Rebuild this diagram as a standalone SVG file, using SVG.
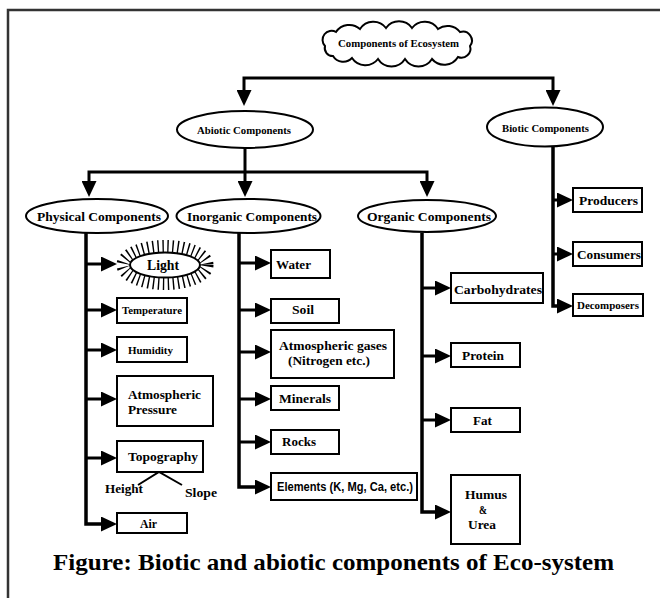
<svg xmlns="http://www.w3.org/2000/svg" width="660" height="598" viewBox="0 0 660 598">
<style>
.n{fill:#fff;stroke:#000;stroke-width:2}
.t{font-family:"Liberation Serif","Times New Roman",serif;font-weight:bold;fill:#000}
.s{font-family:"Liberation Sans",Arial,sans-serif;font-weight:bold;fill:#000}
.c{fill:none;stroke:#000;stroke-width:3}
.k{fill:none;stroke:#000;stroke-width:3.5}
</style>
<defs>
<marker id="ah" viewBox="0 0 16 15" refX="1" refY="7.5" markerWidth="16" markerHeight="15" markerUnits="userSpaceOnUse" orient="auto">
<path d="M0,0 L16,7.5 L0,15 Z" fill="#000"/>
</marker>
</defs>
<rect width="660" height="598" fill="#fff"/>
<path d="M8,598 V10 H660" fill="none" stroke="#333" stroke-width="2.5"/>

<g id="connectors">
<path class="c" d="M398,78 H244 V91" marker-end="url(#ah)"/>
<path class="c" d="M398,78 H553 V91" marker-end="url(#ah)"/>
<path class="c" d="M245,148 V182" marker-end="url(#ah)"/>
<path class="c" d="M245,172 H89 V182" marker-end="url(#ah)"/>
<path class="c" d="M245,172 H427 V182" marker-end="url(#ah)"/>
<!-- physical -->
<path class="k" d="M86,233 V524 H102" marker-end="url(#ah)"/>
<path class="c" d="M86,264 H102" marker-end="url(#ah)"/>
<path class="c" d="M86,310 H102" marker-end="url(#ah)"/>
<path class="c" d="M86,350 H102" marker-end="url(#ah)"/>
<path class="c" d="M86,399 H102" marker-end="url(#ah)"/>
<path class="c" d="M86,458 H102" marker-end="url(#ah)"/>
<!-- inorganic -->
<path class="k" d="M239,233 V487 H256" marker-end="url(#ah)"/>
<path class="c" d="M239,263 H256" marker-end="url(#ah)"/>
<path class="c" d="M239,310 H256" marker-end="url(#ah)"/>
<path class="c" d="M239,352 H256" marker-end="url(#ah)"/>
<path class="c" d="M239,399 H256" marker-end="url(#ah)"/>
<path class="c" d="M239,442 H256" marker-end="url(#ah)"/>
<!-- organic -->
<path class="k" d="M422,233 V512 H436" marker-end="url(#ah)"/>
<path class="c" d="M422,288 H436" marker-end="url(#ah)"/>
<path class="c" d="M422,356 H436" marker-end="url(#ah)"/>
<path class="c" d="M422,420 H436" marker-end="url(#ah)"/>
<!-- biotic -->
<path class="k" d="M553,147 V306 H558" marker-end="url(#ah)"/>
<path class="c" d="M553,200 H558" marker-end="url(#ah)"/>
<path class="c" d="M553,254 H558" marker-end="url(#ah)"/>
<!-- topography split -->
<path fill="none" stroke="#000" stroke-width="2" d="M138,485 L159,472 L182,485"/>
</g>

<g id="ecosystem">
<path class="n" d="M325,46 A9,9 0 0 1 336,32 A16,16 0 0 1 360,29 A16,16 0 0 1 386,28 A16,16 0 0 1 412,28 A16,16 0 0 1 438,29 A16,16 0 0 1 460,32 A9,9 0 0 1 470,46 A9,9 0 0 1 458,57 A16,16 0 0 1 432,59 A16,16 0 0 1 405,59 A16,16 0 0 1 378,59 A16,16 0 0 1 352,58 A12,12 0 0 1 333,56 A8,8 0 0 1 325,46 Z"/>
<text class="t" x="338" y="47" font-size="11" textLength="121" lengthAdjust="spacingAndGlyphs">Components of Ecosystem</text>
</g>

<g id="abiotic">
<ellipse class="n" cx="245" cy="129.5" rx="68" ry="18.5"/>
<text class="t" x="197" y="134" font-size="11" textLength="94" lengthAdjust="spacingAndGlyphs">Abiotic Components</text>
</g>
<g id="biotic">
<ellipse class="n" cx="545" cy="127" rx="58" ry="19.5"/>
<text class="t" x="502" y="132" font-size="11" textLength="87" lengthAdjust="spacingAndGlyphs">Biotic Components</text>
</g>

<g id="physical">
<ellipse class="n" cx="97" cy="216" rx="71" ry="17"/>
<text class="t" x="37" y="221" font-size="13.5" textLength="124" lengthAdjust="spacingAndGlyphs">Physical Components</text>
</g>
<g id="inorganic">
<ellipse class="n" cx="248.5" cy="216" rx="72" ry="17"/>
<text class="t" x="187" y="221" font-size="13.5" textLength="130" lengthAdjust="spacingAndGlyphs">Inorganic Components</text>
</g>
<g id="organic">
<ellipse class="n" cx="427" cy="216" rx="69" ry="16"/>
<text class="t" x="367" y="221" font-size="13.5" textLength="124" lengthAdjust="spacingAndGlyphs">Organic Components</text>
</g>

<g id="light">
<ellipse cx="165" cy="265" rx="42" ry="18.5" fill="none" stroke="#000" stroke-width="13" stroke-dasharray="1.4 3.6"/>
<ellipse class="n" cx="165" cy="265" rx="35" ry="12.5"/>
<text class="t" x="147" y="270" font-size="14.5" textLength="32" lengthAdjust="spacingAndGlyphs">Light</text>
</g>
<g id="temperature">
<rect class="n" x="117" y="298" width="70" height="25"/>
<text class="t" x="122" y="314" font-size="10.5" textLength="60" lengthAdjust="spacingAndGlyphs">Temperature</text>
</g>
<g id="humidity">
<rect class="n" x="117" y="337" width="70" height="25"/>
<text class="t" x="128" y="354" font-size="10.5" textLength="45" lengthAdjust="spacingAndGlyphs">Humidity</text>
</g>
<g id="pressure">
<rect class="n" x="117" y="376" width="96" height="50"/>
<text class="t" x="128" y="399" font-size="13" textLength="73" lengthAdjust="spacingAndGlyphs">Atmospheric</text>
<text class="t" x="128" y="414" font-size="13" textLength="49" lengthAdjust="spacingAndGlyphs">Pressure</text>
</g>
<g id="topography">
<rect class="n" x="117" y="441" width="86" height="31"/>
<text class="t" x="128" y="461" font-size="13" textLength="70" lengthAdjust="spacingAndGlyphs">Topography</text>
</g>
<g id="height">
<text class="t" x="105" y="493" font-size="13" textLength="38" lengthAdjust="spacingAndGlyphs">Height</text>
</g>
<g id="slope">
<text class="t" x="185" y="497" font-size="13" textLength="32" lengthAdjust="spacingAndGlyphs">Slope</text>
</g>
<g id="air">
<rect class="n" x="117" y="513" width="70" height="20"/>
<text class="t" x="140" y="528" font-size="12" textLength="17" lengthAdjust="spacingAndGlyphs">Air</text>
</g>

<g id="water">
<rect class="n" x="271" y="250" width="59" height="28"/>
<text class="t" x="276" y="269" font-size="13" textLength="35" lengthAdjust="spacingAndGlyphs">Water</text>
</g>
<g id="soil">
<rect class="n" x="271" y="299" width="68" height="24"/>
<text class="t" x="292" y="314" font-size="13" textLength="22" lengthAdjust="spacingAndGlyphs">Soil</text>
</g>
<g id="gases">
<rect class="n" x="271" y="330" width="123" height="48"/>
<text class="t" x="279" y="350" font-size="13.5" textLength="108" lengthAdjust="spacingAndGlyphs">Atmospheric gases</text>
<text class="t" x="288" y="365" font-size="13.5" textLength="82" lengthAdjust="spacingAndGlyphs">(Nitrogen etc.)</text>
</g>
<g id="minerals">
<rect class="n" x="271" y="386" width="68" height="24"/>
<text class="t" x="279" y="403" font-size="13" textLength="52" lengthAdjust="spacingAndGlyphs">Minerals</text>
</g>
<g id="rocks">
<rect class="n" x="271" y="430" width="68" height="24"/>
<text class="t" x="282" y="446" font-size="13" textLength="34" lengthAdjust="spacingAndGlyphs">Rocks</text>
</g>
<g id="elements">
<rect class="n" x="271" y="473" width="146" height="27"/>
<text class="s" x="277" y="491" font-size="12" textLength="136" lengthAdjust="spacingAndGlyphs">Elements (K, Mg, Ca, etc.)</text>
</g>

<g id="carbohydrates">
<rect class="n" x="451" y="273" width="92" height="30"/>
<text class="t" x="454" y="294" font-size="13.5" textLength="88" lengthAdjust="spacingAndGlyphs">Carbohydrates</text>
</g>
<g id="protein">
<rect class="n" x="451" y="343" width="69" height="24"/>
<text class="t" x="462" y="360" font-size="13" textLength="42" lengthAdjust="spacingAndGlyphs">Protein</text>
</g>
<g id="fat">
<rect class="n" x="451" y="408" width="69" height="24"/>
<text class="t" x="473" y="425" font-size="12.5" textLength="19" lengthAdjust="spacingAndGlyphs">Fat</text>
</g>
<g id="humus">
<rect class="n" x="451" y="475" width="69" height="69"/>
<text class="t" x="465" y="499" font-size="13" textLength="42" lengthAdjust="spacingAndGlyphs">Humus</text>
<text class="t" x="479" y="514" font-size="13" textLength="8" lengthAdjust="spacingAndGlyphs">&amp;</text>
<text class="t" x="468" y="529" font-size="13" textLength="28" lengthAdjust="spacingAndGlyphs">Urea</text>
</g>

<g id="producers">
<rect class="n" x="573" y="188" width="69" height="24"/>
<text class="t" x="579" y="205" font-size="13.5" textLength="59" lengthAdjust="spacingAndGlyphs">Producers</text>
</g>
<g id="consumers">
<rect class="n" x="573" y="242" width="69" height="24"/>
<text class="t" x="577" y="259" font-size="13.5" textLength="64" lengthAdjust="spacingAndGlyphs">Consumers</text>
</g>
<g id="decomposers">
<rect class="n" x="573" y="294" width="70" height="22"/>
<text class="t" x="577" y="309" font-size="11" textLength="62" lengthAdjust="spacingAndGlyphs">Decomposers</text>
</g>

<g id="caption">
<text class="t" x="53" y="570" font-size="23" textLength="561" lengthAdjust="spacingAndGlyphs">Figure: Biotic and abiotic components of Eco-system</text>
</g>
</svg>
